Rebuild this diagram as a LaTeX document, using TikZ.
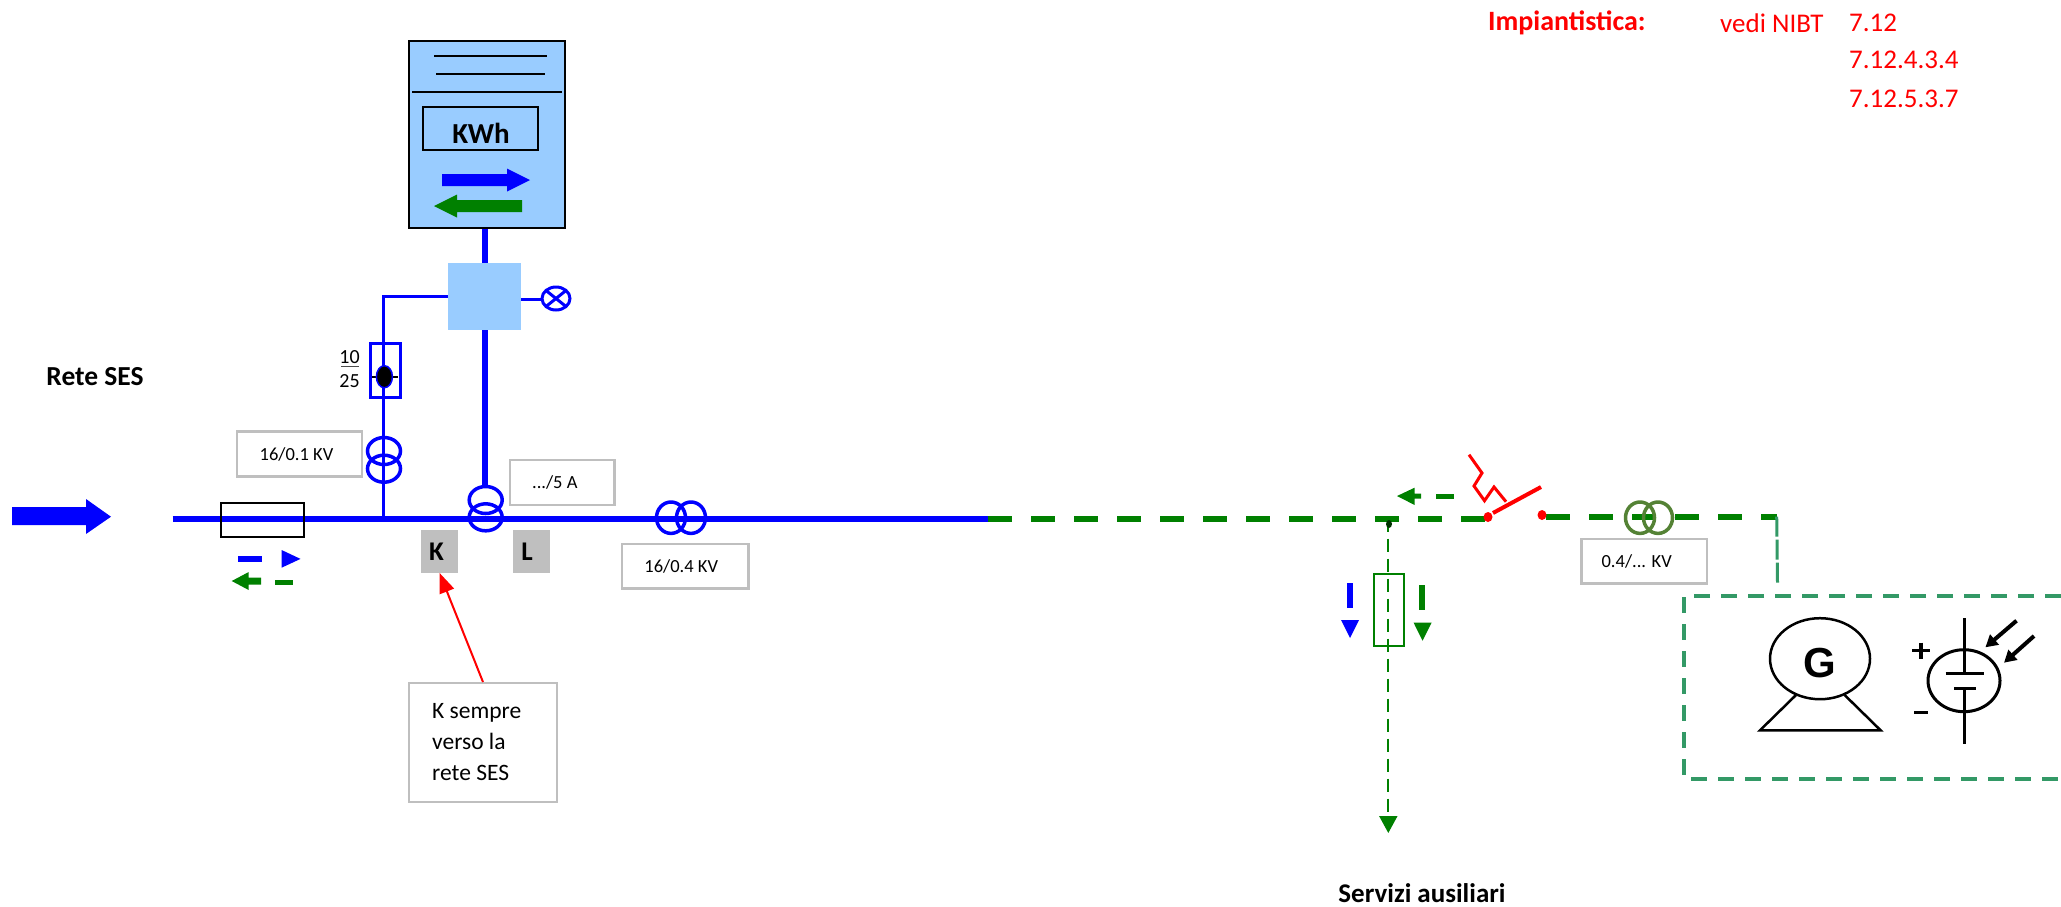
\documentclass[tikz,border=0pt]{standalone}
\usepackage{fontspec}
\setmainfont{Carlito}
\newfontfamily\arialfont{Liberation Sans}
\usetikzlibrary{arrows.meta}
\definecolor{lb}{HTML}{99CCFF}
\definecolor{gg}{HTML}{008000}
\definecolor{bb}{HTML}{0000FF}
\definecolor{teal2}{HTML}{339966}
\definecolor{olive2}{HTML}{548235}
\definecolor{grayb}{HTML}{BFBFBF}
\tikzset{
 valbox/.style={draw=grayb,line width=2.5pt,fill=white,minimum width=#1,inner sep=0pt,font=\fontsize{18.5}{20}\selectfont},
 greybox/.style={fill=grayb,minimum width=37pt,minimum height=42.7pt,inner sep=0pt,font=\fontsize{27}{28}\selectfont\bfseries},
 lbl/.style={inner sep=0pt,font=\fontsize{#1}{#1}\selectfont},
 redtxt/.style={inner sep=0pt,anchor=west,text=red,font=\fontsize{27}{30}\selectfont},
 mainline/.style={bb,line width=6pt},
 thinblue/.style={bb,line width=3pt},
 gdash/.style={gg,line width=6pt,dash pattern=on 24pt off 19pt},
 tealdash/.style={teal2,line width=3.8pt,dash pattern=on 16pt off 11pt},
 coil/.style={draw=bb,line width=3.5pt},
 blk/.style={black,line width=2.5pt},
}
\begin{document}
\begin{tikzpicture}[x=1pt,y=-1pt]
\useasboundingbox (0,0) rectangle (2061,906);
% meter
\node[draw=black,line width=2.5pt,fill=lb,minimum width=156pt,minimum height=187pt,inner sep=0pt] (meter) at (487,134.5) {};
\coordinate (m1a) at (434,56); \coordinate (m1b) at (547,56);
\coordinate (m2a) at (436,74); \coordinate (m2b) at (545,74);
\coordinate (m3a) at (412,92); \coordinate (m3b) at (562,92);
\draw[black,line width=2pt] (m1a)--(m1b) (m2a)--(m2b) (m3a)--(m3b);
\node[draw=black,line width=2pt,minimum width=115pt,minimum height=43pt,inner sep=0pt] (kwh) at (480.5,128.5) {};
\node[inner sep=0pt,font=\fontsize{29}{30}\selectfont\bfseries] (kwhtext) at (481,133) {KWh};
\fill[bb] (442,174)--(507,174)--(507,168.5)--(530,180)--(507,191.5)--(507,186)--(442,186)--cycle;
\fill[gg] (522,200)--(457,200)--(457,194.5)--(434,206)--(457,217.5)--(457,212)--(522,212)--cycle;
% control box
\node[fill=lb,minimum width=73pt,minimum height=67pt,inner sep=0pt] (ctrl) at (484.5,296.5) {};
\coordinate (ct1) at (484.5,487);
\coordinate (ctl) at (448,296);
\coordinate (cornerl) at (383.5,296);
\coordinate (vtbus) at (383.5,518);
\coordinate (lampl) at (521,299);
\draw[mainline] (meter.south -| ctrl) -- (ctrl.north);
\draw[mainline] (ctrl.south) -- (ct1);
\draw[thinblue] (ctl) -- (cornerl) -- (vtbus);
\node[coordinate] (lamp) at (556,298.5) {};
\draw[thinblue] (lampl) -- (542,299);
\draw[thinblue] (lamp) ellipse [x radius=14,y radius=11.5];
\draw[thinblue] (546,290.5)--(566,306.5) (546,306.5)--(566,290.5);
% meter fuse-like
\node[draw=bb,line width=3pt,minimum width=30pt,minimum height=54pt,inner sep=0pt] (vfuse) at (385,370) {};
\draw[black,line width=2pt] (372,376.7)--(397.5,376.7);
\draw[fill=black,draw=bb,line width=1.5pt] (384.4,376.7) ellipse [x radius=8,y radius=11];
\node[lbl=20] (n10) at (349.5,357) {10};
\node[lbl=20] (n25) at (349.5,381) {25};
\coordinate (fr1) at (341,366.5); \coordinate (fr2) at (359,366.5);
\draw[black!70,line width=1pt] (fr1)--(fr2);
% bus
\coordinate (busa) at (172.6,518.7); \coordinate (busb) at (988,518.7);
\coordinate (swl) at (1484.5,518.7);
\draw[gdash] (swl) -- (busb);
\draw[mainline] (busa) -- (busb);
\fill[bb] (12,507)--(86,507)--(86,499)--(111,516.7)--(86,534)--(86,525)--(12,525)--cycle;
\node[draw=black,line width=2pt,minimum width=83pt,minimum height=34.5pt,inner sep=0pt] (fuse) at (262,520) {};
\fill[bb] (237.5,555.7) rectangle (262,561.7);
\fill[bb] (281.6,550)--(300.5,558.9)--(281.6,567.7)--cycle;
\fill[gg] (231.7,581)--(248.7,572)--(248.7,577.5)--(261,577.5)--(261,584.5)--(248.7,584.5)--(248.7,590)--cycle;
\fill[gg] (275,580.2) rectangle (293,585.2);
% transformers
\draw[coil] (384,451) ellipse [x radius=16.5,y radius=13.5];
\draw[coil] (384,468.7) ellipse [x radius=16.5,y radius=13.5];
\draw[coil] (485.7,500) ellipse [x radius=16.5,y radius=13.5];
\draw[coil] (485.7,517.3) ellipse [x radius=16.5,y radius=13.5];
\draw[coil] (671,517.7) ellipse [x radius=14.5,y radius=15.7];
\draw[coil] (691,517.7) ellipse [x radius=14.5,y radius=15.7];
% value boxes
\node[valbox=125pt,minimum height=45pt] (b1) at (299.5,454.2) {\hspace*{-6pt}\raisebox{-1pt}{16/0.1 KV}};
\node[valbox=104.6pt,minimum height=45pt] (b2) at (562.3,482.5) {\hspace*{-15pt}\raisebox{-1pt}{.../5 A}};
\node[valbox=126.5pt,minimum height=44.7pt] (b3) at (685.2,566.3) {\hspace*{-8pt}\raisebox{-1pt}{16/0.4 KV}};
\node[valbox=125.3pt,minimum height=44.3pt] (b4) at (1644.2,561.2) {\hspace*{-15pt}\raisebox{-1pt}{0.4/... KV}};
% K L
\node[greybox] (K) at (439.5,551.3) {\hspace*{-6pt}K};
\node[greybox] (L) at (531.5,551.3) {\hspace*{-9pt}L};
\node[draw=grayb,line width=2pt,fill=white,minimum width=148pt,minimum height=119pt,inner sep=0pt] (kbox) at (483,742.5) {};
\node[inner sep=0pt,anchor=north west,align=left,font=\fontsize{23.5}{31}\selectfont] (ktext) at (432,703) {K sempre\\verso la\\rete SES};
\draw[red,line width=2pt,-{Triangle[length=20pt,width=15pt]}] (kbox.north) -- (K.south);
% labels
\node[inner sep=0pt,font=\fontsize{27.5}{30}\selectfont\bfseries] (rete) at (95,376.7) {Rete SES};
\node[inner sep=0pt,font=\fontsize{27}{30}\selectfont\bfseries] (serv) at (1422,893.5) {Servizi ausiliari};
\node[redtxt,font=\fontsize{28}{30}\selectfont\bfseries] (imp) at (1488,23) {Impiantistica:};
\node[redtxt] (vedi) at (1720,23) {vedi NIBT};
\node[redtxt] (r1) at (1849,23) {7.12};
\node[redtxt] (r2) at (1849,60) {7.12.4.3.4};
\node[redtxt] (r3) at (1849,98.6) {7.12.5.3.7};
% switch
\coordinate (swr) at (1546,516.7);
\coordinate (swt) at (1776.7,516.7);
\draw[gdash] (swr) -- (swt);
\draw[draw=olive2,line width=3.5pt] (1640,517.7) ellipse [x radius=14.5,y radius=15.7];
\draw[draw=olive2,line width=3.5pt] (1658,517.7) ellipse [x radius=14.5,y radius=15.7];
\fill[red] (1488,517) ellipse [x radius=4.5,y radius=5];
\fill[red] (1542,515) ellipse [x radius=4.5,y radius=5];
\coordinate (sw1) at (1493,513); \coordinate (sw2) at (1541,487);
\draw[red,line width=4pt] (sw1)--(sw2);
\draw[red,line width=3pt] (1469,454.7)--(1482,473)--(1474,486)--(1484.5,500.7)--(1494,487)--(1506,501.7);
\fill[gg] (1397,496)--(1414.6,487.7)--(1414.6,493.5)--(1421,493.5)--(1421,498.5)--(1414.6,498.5)--(1414.6,505)--cycle;
\fill[gg] (1436,493.5) rectangle (1454,498.5);
% services
\coordinate (stap) at (1388.3,518.7); \coordinate (send) at (1388.3,833);
\draw[gg,line width=2pt,dash pattern=on 13pt off 7pt,-{Triangle[length=17pt,width=18pt]}] (stap) -- (send);
\fill[black!80!green] (1389,524) ellipse [x radius=3,y radius=4];
\node[draw=gg,line width=2.5pt,minimum width=30.2pt,minimum height=72.3pt,inner sep=0pt] (sfuse) at (1388.9,609.9) {};
\fill[bb] (1347,583) rectangle (1353,607.7);
\fill[bb] (1341,620)--(1359,620)--(1350,638)--cycle;
\fill[gg] (1419.3,585) rectangle (1425.3,610);
\fill[gg] (1413.6,622.7)--(1431.5,622.7)--(1422.5,640.7)--cycle;
% generation box
\coordinate (tv) at (1777.5,583);
\draw[teal2,line width=3pt,dash pattern=on 20pt off 3pt] (swt) -- (tv);
\draw[tealdash] (2061,596) -- (1684,596) -- (1684,778.7) -- (2061,778.7);
% G
\node[inner sep=0pt,font=\arialfont\fontsize{42}{42}\selectfont\bfseries] (G) at (1820,663) {G};
\draw[blk] (1820,658.7) ellipse [x radius=50,y radius=40.5];
\draw[blk,line join=miter] (1796,695)--(1760,730.3)--(1880.6,730.3)--(1844.6,695);
% PV
\draw[black,line width=3pt] (1964,680.7) ellipse [x radius=36,y radius=31];
\draw[black,line width=3pt] (1964.5,618)--(1964.5,673.3) (1964.5,688.3)--(1964.5,743.7);
\draw[black,line width=3.5pt] (1945.6,673.3)--(1983.5,673.3) (1954,688.3)--(1975.7,688.3);
\draw[black,line width=3.5pt] (1912,650.7)--(1930,650.7) (1921,642.7)--(1921,658.7);
\draw[black,line width=3pt] (1914,712)--(1928,712);
\draw[black,line width=4pt,-{Triangle[length=12pt,width=13pt]}] (2016.5,620.7)--(1985.4,647.3);
\draw[black,line width=4pt,-{Triangle[length=12pt,width=13pt]}] (2034,636)--(2004,662.7);
\end{tikzpicture}
\end{document}
